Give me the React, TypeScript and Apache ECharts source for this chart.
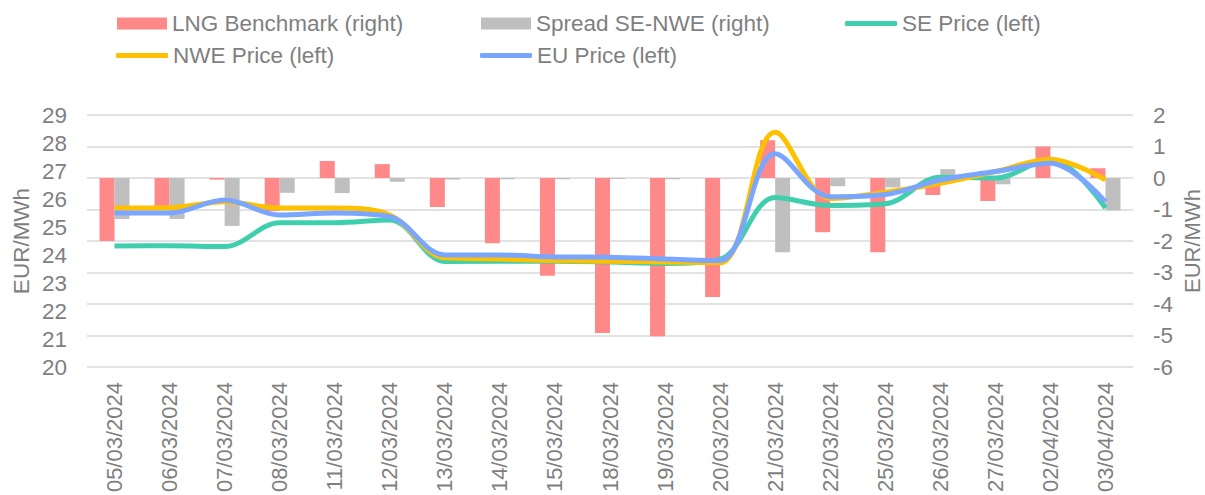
import React, { useEffect, useRef } from "react";
import * as echarts from "echarts";

const categories = [
  "05/03/2024", "06/03/2024", "07/03/2024", "08/03/2024", "11/03/2024",
  "12/03/2024", "13/03/2024", "14/03/2024", "15/03/2024", "18/03/2024",
  "19/03/2024", "20/03/2024", "21/03/2024", "22/03/2024", "25/03/2024",
  "26/03/2024", "27/03/2024", "02/04/2024", "03/04/2024",
];

const lngBenchmark = [-2.0, -1.0, -0.05, -1.05, 0.54, 0.44, -0.92, -2.07, -3.1, -4.92, -5.02, -3.78, 1.2, -1.72, -2.36, -0.54, -0.73, 1.0, 0.31];
const spreadSeNwe = [-1.3, -1.3, -1.52, -0.47, -0.48, -0.12, -0.05, -0.04, -0.04, -0.03, -0.04, -0.01, -2.36, -0.26, -0.3, 0.28, -0.2, 0.0, -1.03];
const sePrice = [24.32, 24.33, 24.3, 25.15, 25.15, 25.25, 23.77, 23.78, 23.78, 23.75, 23.7, 23.85, 26.05, 25.77, 25.83, 26.78, 26.75, 27.42, 25.68];
const nwePrice = [25.68, 25.69, 25.9, 25.68, 25.68, 25.43, 23.9, 23.86, 23.8, 23.78, 23.75, 23.72, 28.38, 26.02, 26.24, 26.56, 26.98, 27.42, 26.68];
const euPrice = [25.5, 25.5, 25.96, 25.43, 25.5, 25.37, 24.0, 24.0, 23.93, 23.92, 23.86, 23.8, 27.62, 26.08, 26.16, 26.68, 26.98, 27.28, 25.9];

const leftTicks = { min: 20, max: 29, interval: 1 };
const rightTicks = { min: -6, max: 2, interval: 1 };

const FONT = "'Liberation Sans', Arial, sans-serif";
const TEXT = "#7f7f7f";
const C_LNG = "#ff8888";
const C_SPREAD = "#bfbfbf";
const C_SE = "#40cfae";
const C_NWE = "#ffc000";
const C_EU = "#7aa6ff";
const SMOOTH = 0.35;

export default function App() {
  const ref = useRef<HTMLDivElement>(null);
  useEffect(() => {
    if (!ref.current) return;
    const chart = echarts.init(ref.current, undefined, { renderer: "svg" });
    const textStyle = { color: TEXT, fontSize: 22.5, fontFamily: FONT };
    const mkLegend = (name: string, left: number, top: number, isLine: boolean) => ({
      data: [name],
      left,
      top,
      icon: isLine ? "roundRect" : "rect",
      itemWidth: isLine ? 52 : 50,
      itemHeight: isLine ? 5 : 12,
      itemGap: 0,
      padding: 0,
      textStyle,
      selectedMode: false,
    });
    chart.setOption({
      animation: false,
      textStyle: { fontFamily: FONT },
      legend: [
        mkLegend("LNG Benchmark (right)", 117, 12, false),
        mkLegend("Spread SE-NWE (right)", 481, 12, false),
        mkLegend("SE Price (left)", 845, 12, true),
        mkLegend("NWE Price (left)", 116, 44, true),
        mkLegend("EU Price (left)", 480, 44, true),
      ],
      grid: { left: 87, right: 72, top: 115, bottom: 128, outerBoundsMode: "none", containLabel: false },
      xAxis: {
        type: "category",
        data: categories,
        axisLine: { show: false },
        axisTick: { show: false },
        axisLabel: { rotate: 90, interval: 0, margin: 15, ...textStyle, fontSize: 22 },
      },
      yAxis: [
        {
          type: "value",
          ...leftTicks,
          name: "EUR/MWh",
          nameLocation: "middle",
          nameRotate: 90,
          nameGap: 55,
          nameMoveOverlap: false,
          nameTextStyle: { ...textStyle, lineHeight: 22 },
          splitLine: { show: false },
          axisLine: { show: false },
          axisTick: { show: false },
          axisLabel: { margin: 20, ...textStyle },
        },
        {
          type: "value",
          ...rightTicks,
          position: "right",
          name: "EUR/MWh",
          nameLocation: "middle",
          nameRotate: 90,
          nameGap: 48,
          nameMoveOverlap: false,
          nameTextStyle: { ...textStyle, fontSize: 22, lineHeight: 22 },
          splitLine: { show: true, lineStyle: { color: "#d9d9d9", width: 1.5 } },
          axisLine: { show: false },
          axisTick: { show: false },
          axisLabel: { margin: 20, ...textStyle },
        },
      ],
      series: [
        {
          name: "LNG Benchmark (right)",
          type: "bar",
          yAxisIndex: 1,
          data: lngBenchmark,
          barWidth: 15,
          barGap: "0%",
          itemStyle: { color: C_LNG },
        },
        {
          name: "Spread SE-NWE (right)",
          type: "bar",
          yAxisIndex: 1,
          data: spreadSeNwe,
          barWidth: 15,
          barGap: "0%",
          itemStyle: { color: C_SPREAD },
        },
        {
          name: "SE Price (left)",
          type: "line",
          yAxisIndex: 0,
          data: sePrice,
          smooth: SMOOTH,
          symbol: "none",
          lineStyle: { color: C_SE, width: 5 },
          itemStyle: { color: C_SE },
        },
        {
          name: "NWE Price (left)",
          type: "line",
          yAxisIndex: 0,
          data: nwePrice,
          smooth: SMOOTH,
          symbol: "none",
          lineStyle: { color: C_NWE, width: 5 },
          itemStyle: { color: C_NWE },
        },
        {
          name: "EU Price (left)",
          type: "line",
          yAxisIndex: 0,
          data: euPrice,
          smooth: SMOOTH,
          symbol: "none",
          lineStyle: { color: C_EU, width: 5 },
          itemStyle: { color: C_EU },
        },
      ],
    });
    return () => chart.dispose();
  }, []);
  return (
    <div
      ref={ref}
      style={{ position: "absolute", left: 0, top: 0, width: 1205, height: 495 }}
    />
  );
}
